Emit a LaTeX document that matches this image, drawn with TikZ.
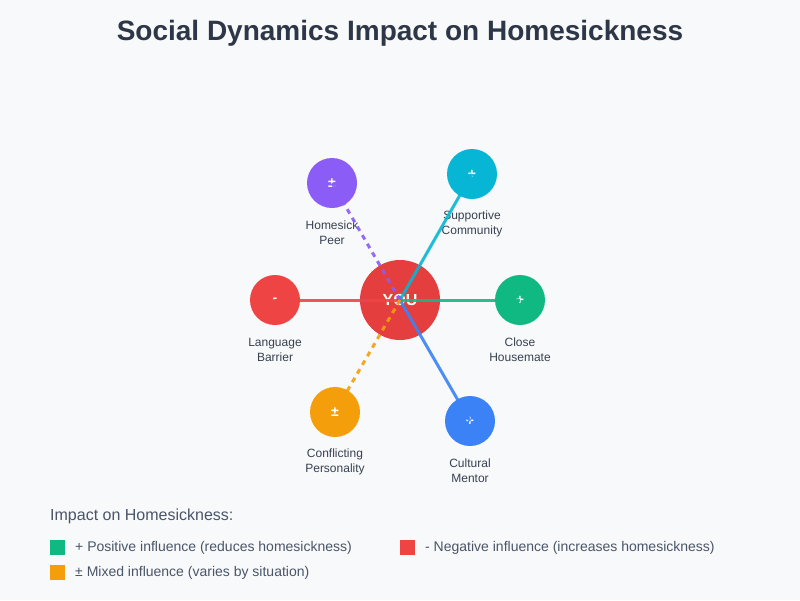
\documentclass[tikz,border=0pt]{standalone}
\usepackage{fontspec}
\setmainfont{Liberation Sans}
\usetikzlibrary{positioning}
\definecolor{bgcol}{HTML}{F8F9FA}
\definecolor{titlecol}{HTML}{2D3748}
\definecolor{labcol}{HTML}{374151}
\definecolor{keycol}{HTML}{4A5568}
\definecolor{youcol}{HTML}{E53E3E}
\definecolor{purple}{HTML}{8B5CF6}
\definecolor{cyan}{HTML}{06B6D4}
\definecolor{red}{HTML}{EF4444}
\definecolor{green}{HTML}{10B981}
\definecolor{amber}{HTML}{F59E0B}
\definecolor{blue}{HTML}{3B82F6}
\tikzset{member/.style={circle, minimum size=50pt, inner sep=0pt, text=white, font=\bfseries\fontsize{14}{14}\selectfont},
  tag/.style={align=center, text=labcol, inner sep=0pt, font=\fontsize{12}{15}\selectfont},
  tie/.style={line width=3pt, draw opacity=0.9},
  mixed/.style={tie, dash pattern=on 5pt off 5pt},
  key/.style={minimum size=15pt, inner sep=0pt},
  keytext/.style={anchor=west, text=keycol, inner sep=0pt, font=\fontsize{14}{14}\selectfont}}

\begin{document}
\begin{tikzpicture}[x=1pt, y=-1pt]
\fill [bgcol] (0,0) rectangle (800,600);
\useasboundingbox (0,0) rectangle (800,600);
\node [text=titlecol, font=\bfseries\fontsize{28}{28}\selectfont] (title) at (400,33) {Social Dynamics Impact on Homesickness};
% centre
\node [circle, fill=youcol, minimum size=80pt, inner sep=0pt, text=white, font=\bfseries\fontsize{16}{16}\selectfont] (you) at (400,300) {YOU};
% people around
\node [member, fill=purple] (peer) at (332,183) {±};
\node [member, fill=cyan] (community) at (472,174) {+};
\node [member, fill=red] (barrier) at (275,300) {-};
\node [member, fill=green] (housemate) at (520,300) {+};
\node [member, fill=amber] (conflict) at (335,412) {±};
\node [member, fill=blue] (mentor) at (470,421) {+};
\node [tag] (peerL) at (332,233) {Homesick\\Peer};
\node [tag] (communityL) at (472,224) {Supportive\\Community};
\node [tag] (barrierL) at (275,350) {Language\\Barrier};
\node [tag] (housemateL) at (520,350) {Close\\Housemate};
\node [tag] (conflictL) at (335,462) {Conflicting\\Personality};
\node [tag] (mentorL) at (470,471) {Cultural\\Mentor};
% ties
\draw [tie, cyan] (you.center) -- (community.center);
\draw [tie, green] (you.center) -- (housemate.center);
\draw [tie, blue] (you.center) -- (mentor.center);
\draw [tie, red] (you.center) -- (barrier.center);
\draw [mixed, purple] (you.center) -- (peer.center);
\draw [mixed, amber] (you.center) -- (conflict.center);
% legend
\node [anchor=west, text=keycol, inner sep=0pt, font=\fontsize{16}{16}\selectfont] (head) at (50,516) {Impact on Homesickness:};
\node [key, fill=green] (kpos) at (57.5,547.5) {};
\node [keytext] (kposT) at (75,547.5) {+ Positive influence (reduces homesickness)};
\node [key, fill=red] (kneg) at (407.5,547.5) {};
\node [keytext] (knegT) at (425,547.5) {- Negative influence (increases homesickness)};
\node [key, fill=amber] (kmix) at (57.5,572.5) {};
\node [keytext] (kmixT) at (75,572.5) {± Mixed influence (varies by situation)};
\end{tikzpicture}
\end{document}
